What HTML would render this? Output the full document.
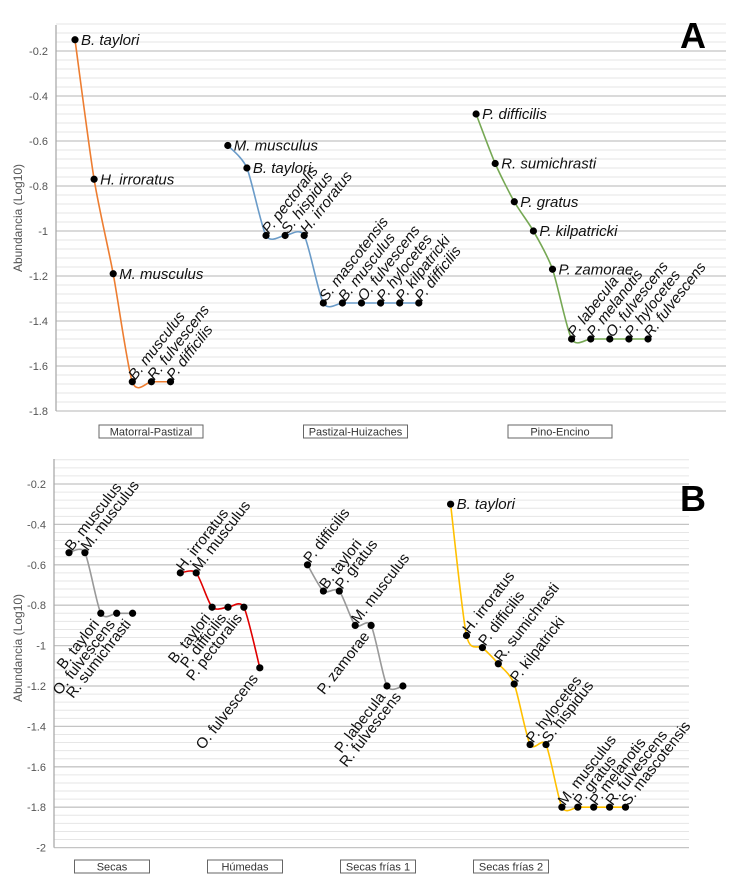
<!DOCTYPE html>
<html><head><meta charset="utf-8"><style>
body{margin:0;background:#fff;}
svg{display:block;font-family:"Liberation Sans",Arial,sans-serif;}
</style></head><body>
<svg id="c" width="736" height="886"></svg>
<script>
// ---- Panel A data ----
const aGroups = ["Matorral-Pastizal","Pastizal-Huizaches","Pino-Encino"];
const aSlotStart = [0, 8, 21];
const aNames = [
 ["B. taylori","H. irroratus","M. musculus","B. musculus","R. fulvescens","P. difficilis"],
 ["M. musculus","B. taylori","P. pectoralis","S. hispidus","H. irroratus","S. mascotensis","B. musculus","O. fulvescens","P. hylocetes","P. kilpatricki","P. difficilis"],
 ["P. difficilis","R. sumichrasti","P. gratus","P. kilpatricki","P. zamorae","P. labecula","P. melanotis","O. fulvescens","P. hylocetes","R. fulvescens"]
];
const aValues = [
 [-0.15,-0.77,-1.19,-1.67,-1.67,-1.67],
 [-0.62,-0.72,-1.02,-1.02,-1.02,-1.32,-1.32,-1.32,-1.32,-1.32,-1.32],
 [-0.48,-0.70,-0.87,-1.00,-1.17,-1.48,-1.48,-1.48,-1.48,-1.48]
];
const aModes = [
 ["h","h","h","u","u","u"],
 ["h","h","u","u","u","u","u","u","u","u","u"],
 ["h","h","h","h","h","u","u","u","u","u"]
];
const aTicks = [-0.2,-0.4,-0.6,-0.8,-1,-1.2,-1.4,-1.6,-1.8];
// ---- Panel B data ----
const bGroups = ["Secas","Húmedas","Secas frías 1","Secas frías 2"];
const bSlotStart = [0, 7, 15, 24];
const bNames = [
 ["B. musculus","M. musculus","B. taylori","O. fulvescens","R. sumichrasti"],
 ["H. irroratus","M. musculus","B. taylori","P. difficilis","P. pectoralis","O. fulvescens"],
 ["P. difficilis","B. taylori","P. gratus","M. musculus","P. zamorae","P. labecula","R. fulvescens"],
 ["B. taylori","H. irroratus","P. difficilis","R. sumichrasti","P. kilpatricki","P. hylocetes","S. hispidus","M. musculus","P. gratus","P. melanotis","R. fulvescens","S. mascotensis"]
];
const bValues = [
 [-0.54,-0.54,-0.84,-0.84,-0.84],
 [-0.64,-0.64,-0.81,-0.81,-0.81,-1.11],
 [-0.60,-0.73,-0.73,-0.90,-0.90,-1.20,-1.20],
 [-0.30,-0.95,-1.01,-1.09,-1.19,-1.49,-1.49,-1.80,-1.80,-1.80,-1.80,-1.80]
];
const bModes = [
 ["u","u","d","d","d"],
 ["u","u","d","d","d","d"],
 ["u","u","u","u","d","d","d"],
 ["h","u","u","u","u","u","u","u","u","u","u","u"]
];
const bTicks = [-0.2,-0.4,-0.6,-0.8,-1,-1.2,-1.4,-1.6,-1.8,-2];

const NS="http://www.w3.org/2000/svg";
const svg=document.getElementById('c');
function mk(tag,attrs,parent){const e=document.createElementNS(NS,tag);for(const k in attrs)e.setAttribute(k,attrs[k]);(parent||svg).appendChild(e);return e;}

function smooth(pts){
  let d="M"+pts[0][0]+","+pts[0][1];
  for(let i=0;i<pts.length-1;i++){
    const p0=pts[i-1]||pts[i],p1=pts[i],p2=pts[i+1],p3=pts[i+2]||p2;
    const t=1/8;
    const c1=[p1[0]+(p2[0]-p0[0])*t,p1[1]+(p2[1]-p0[1])*t];
    const c2=[p2[0]-(p3[0]-p1[0])*t,p2[1]-(p3[1]-p1[1])*t];
    d+=" C"+c1[0]+","+c1[1]+" "+c2[0]+","+c2[1]+" "+p2[0]+","+p2[1];
  }
  return d;
}

function panel(cfg){
  const g=mk('g',{});
  
  
  const y=v=>cfg.y0 - v*cfg.ppu;
  const x=s=>cfg.x0 + s*cfg.slot;
  for(let v=cfg.minTop; v>=cfg.minV-1e-9; v-=0.04){
    const yy=y(v);
    const major=Math.abs(Math.round(v*5)-v*5)<1e-6;
    const ln=mk('line',{x1:cfg.left,x2:cfg.right,y1:yy,y2:yy,stroke:major?'#c4c4c4':'#e6e6e6','stroke-width':major?1.3:1},g);
    
    
  }
  const ax=mk('line',{x1:cfg.left,x2:cfg.left,y1:cfg.top,y2:y(cfg.minV),stroke:'#aaa','stroke-width':1.3},g);
  
  
  cfg.ticks.forEach(v=>{
    const t=mk('text',{x:cfg.left-8,y:y(v)+4,'text-anchor':'end','font-size':11,fill:'#555'},g);
    t.textContent=String(v);
    
    
  });
  const yt=mk('text',{x:0,y:0,'font-size':12,fill:'#555','text-anchor':'middle',transform:`translate(${cfg.titleX},${cfg.titleY}) rotate(-90)`},g);
  yt.textContent='Abundancia (Log10)';
  
  
  cfg.values.forEach((vals,gi)=>{
    const pts=vals.map((v,i)=>[x(cfg.slotStart[gi]+i),y(v)]);
    const p=mk('path',{d:smooth(pts),fill:'none',stroke:cfg.colors[gi],'stroke-width':1.6},g);
    
    
    pts.forEach((pt,i)=>{
      const c=mk('circle',{cx:pt[0],cy:pt[1],r:3.6,fill:'#000'},g);
      
      
      const m=cfg.modes[gi][i];
      let t;
      if(m==='h'){
        t=mk('text',{x:pt[0]+6,y:pt[1]+5,'font-size':15,'font-style':'italic',fill:'#111'},g);
      }else if(m==='u'){
        t=mk('text',{x:0,y:0,'font-size':cfg.rotSize,'font-style':cfg.rotItalic?'italic':'normal',fill:'#111',transform:`translate(${pt[0]+3},${pt[1]-1}) rotate(-52)`},g);
      }else{
        t=mk('text',{x:0,y:0,'font-size':cfg.rotSize,'text-anchor':'end','font-style':cfg.rotItalic?'italic':'normal',fill:'#111',transform:`translate(${pt[0]-1},${pt[1]+11}) rotate(-52)`},g);
      }
      t.textContent=cfg.names[gi][i];
      
      
    });
  });
  cfg.groups.forEach((name,gi)=>{
    const cx=cfg.boxC0+gi*cfg.boxStep;
    const r=mk('rect',{x:cx-cfg.boxW/2,y:cfg.boxY,width:cfg.boxW,height:13,fill:'#fff',stroke:'#666','stroke-width':1},g);
    
    
    const t=mk('text',{x:cx,y:cfg.boxY+10.5,'text-anchor':'middle','font-size':11,fill:'#333'},g);
    t.textContent=name;
    
    
  });
  const L=mk('text',{x:cfg.letterX,y:cfg.letterY,'font-size':36,'font-weight':'900',fill:'#000'},g);
  L.textContent=cfg.letter;
  
  
}

panel({name:'panel-a',y0:6,ppu:225,x0:75,slot:19.1,left:56,right:726,top:25,minTop:-0.08,minV:-1.8,
  ticks:aTicks,titleX:22,titleY:218,values:aValues,names:aNames,modes:aModes,slotStart:aSlotStart,
  colors:['#ed7d31','#6a9bc8','#76a854'],rotSize:15,rotItalic:true,groups:aGroups,
  boxC0:151,boxStep:204.5,boxW:104,boxY:425,letter:'A',letterX:680,letterY:48});
panel({name:'panel-b',y0:443.6,ppu:202,x0:69,slot:15.9,left:54,right:689,top:459,minTop:-0.08,minV:-2,
  ticks:bTicks,titleX:22,titleY:648,values:bValues,names:bNames,modes:bModes,slotStart:bSlotStart,
  colors:['#999','#e00000','#999','#ffc000'],rotSize:15,rotItalic:false,groups:bGroups,
  boxC0:112,boxStep:133,boxW:75,boxY:860,letter:'B',letterX:680,letterY:511});
</script>
</body></html>
